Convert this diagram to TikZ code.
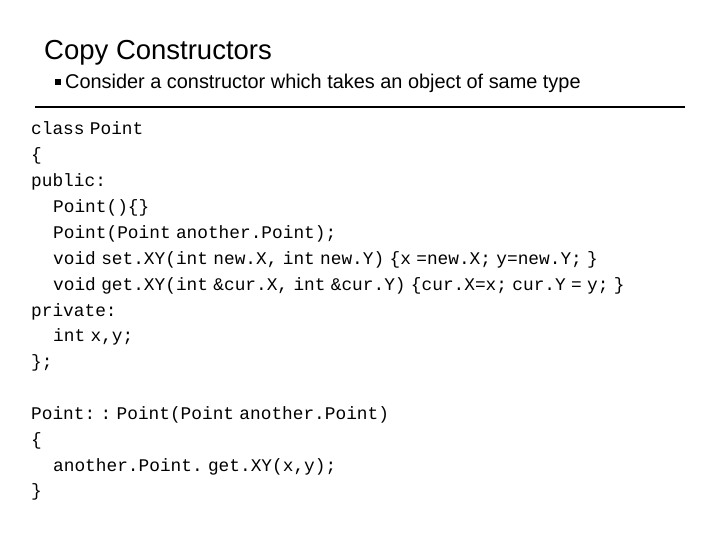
\documentclass[tikz,border=0pt]{standalone}
\usepackage{fontspec}
\setmainfont{Liberation Sans}
\setmonofont{Liberation Mono}
\newcommand{\codefont}{\ttfamily\fontsize{17.8}{20}\selectfont\fontdimen2\font=0.3em\relax}
\begin{document}
\begin{tikzpicture}[x=1pt,y=-1pt,
  code/.style={anchor=base west,inner sep=0pt,font=\codefont},
  txt/.style={anchor=base west,inner sep=0pt}]
\useasboundingbox (0,0) rectangle (720,540);
\node[txt,font=\fontsize{27.5}{30}\selectfont] (title) at (44,60) {Copy Constructors};
\node[fill=black,minimum size=6pt,inner sep=0pt] (bul) at (58,82) {};
\node[txt,font=\fontsize{19.9}{22}\selectfont] (sub) at (65,89) {Consider a constructor which takes an object of same type};
\coordinate (l1) at (35,107); \coordinate (l2) at (685,107);
\draw[line width=1.5pt] (l1) -- (l2);
\node[code] (c1) at (31,135) {class Point};
\node[code] (c2) at (31,161) {\{};
\node[code] (c3) at (31,187) {public:};
\node[code] (c4) at (53,212) {Point()\{\}};
\node[code] (c5) at (53,238) {Point(Point another.Point);};
\node[code] (c6) at (53,264) {void set.XY(int new.X, int new.Y) \{x =new.X; y=new.Y; \}};
\node[code] (c7) at (53,290) {void get.XY(int \&cur.X, int \&cur.Y) \{cur.X=x; cur.Y = y; \}};
\node[code] (c8) at (31,316) {private:};
\node[code] (c9) at (53,341) {int x,y;};
\node[code] (c10) at (31,367) {\};};
\node[code] (c11) at (31,419) {Point: : Point(Point another.Point)};
\node[code] (c12) at (31,445) {\{};
\node[code] (c13) at (53,471) {another.Point. get.XY(x,y);};
\node[code] (c14) at (31,496) {\}};
\end{tikzpicture}
\end{document}
